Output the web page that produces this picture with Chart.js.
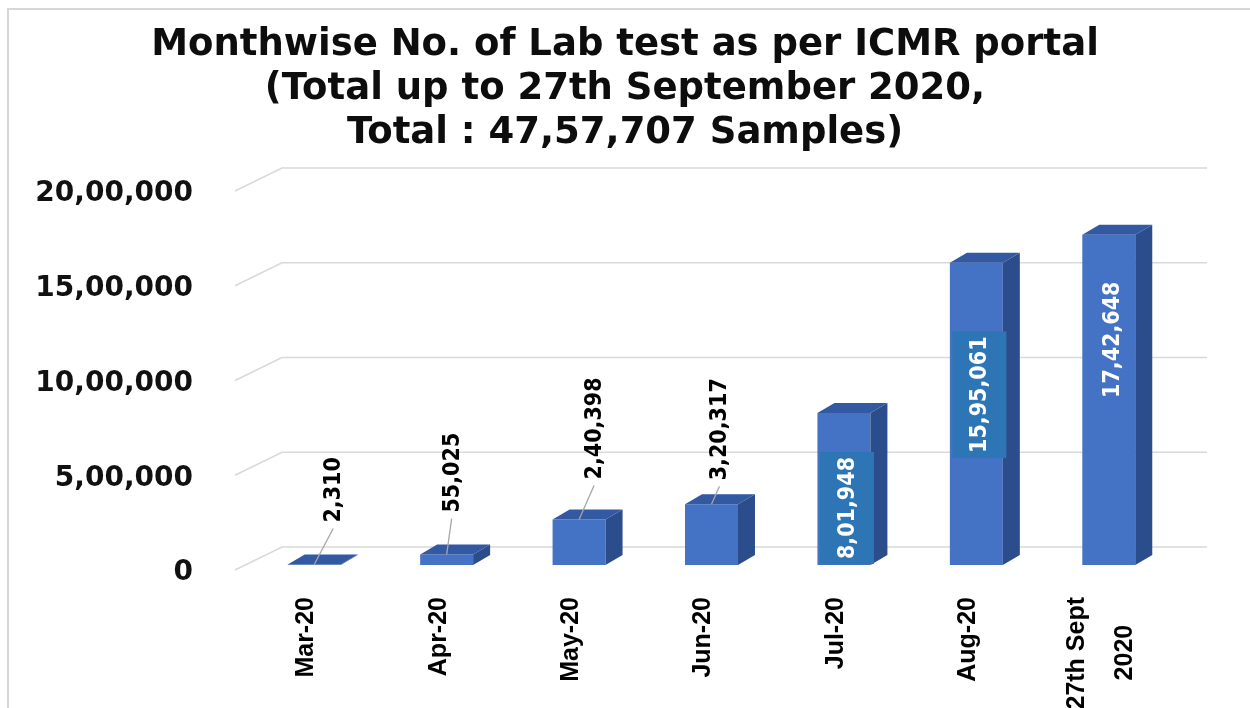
<!DOCTYPE html>
<html>
<head>
<meta charset="utf-8">
<title>Monthwise No. of Lab test as per ICMR portal</title>
<script src="https://cdn.jsdelivr.net/npm/chart.js@4.4.1/dist/chart.umd.min.js"></script>
<style>
  html, body { margin: 0; padding: 0; background: #fff; }
</style>
</head>
<body>
<canvas id="labChart" width="1250" height="708"></canvas>
<script>
// Categories on the x axis (first empty line keeps single labels in line with the two-line one)
const months = [["", "Mar-20"], ["", "Apr-20"], ["", "May-20"], ["", "Jun-20"], ["", "Jul-20"], ["", "Aug-20"], ["27th Sept", "", "2020    "]];
// Samples tested in each month
const samples = [2310, 55025, 240398, 320317, 801948, 1595061, 1742648];
// Value labels as printed on the chart (Indian digit grouping)
const valueText = ["2,310", "55,025", "2,40,398", "3,20,317", "8,01,948", "15,95,061", "17,42,648"];
// y axis ticks
const yTicks = [0, 500000, 1000000, 1500000, 2000000];
const yTickText = ["0", "5,00,000", "10,00,000", "15,00,000", "20,00,000"];
const titleLines = [
	"Monthwise No. of Lab test as per ICMR portal",
	"(Total up to 27th September 2020,",
	"Total : 47,57,707 Samples)"
];

// Look of the fake 3D bars
const frontColor = "#4472c4";
const topColor = "#3359a3";
const sideColor = "#2c4d8c";
const barDepth = { dx: 17, dy: 10 };
const labelFont = "bold 23px 'DejaVu Sans Condensed', 'DejaVu Sans', sans-serif";
// where the small-bar labels sit, relative to the bar top (x, y)
const outsideNudge = [[20, -42], [6, -42], [16, -40], [9, -24]];
// centre of the labels drawn inside the tall bars, relative to the bar top
const insideNudge = { 4: [3, 95], 5: [3, 132], 6: [3, 105] };

/** Draws the frame, the back wall grid, the 3D faces and the value labels */
const chart3d = {
	id: 'chart3d',
	beforeDraw(chart) {
		const ctx = chart.ctx;
		ctx.save();
		ctx.strokeStyle = "#d6d6d6";
		ctx.lineWidth = 2;
		ctx.beginPath();
		ctx.moveTo(8, 708);
		ctx.lineTo(8, 9);
		ctx.lineTo(1250, 9);
		ctx.stroke();
		ctx.restore();
	},
	beforeDatasetsDraw(chart) {
		const ctx = chart.ctx;
		const area = chart.chartArea;
		const y = chart.scales.y;
		ctx.save();
		ctx.strokeStyle = "#d9d9d9";
		ctx.lineWidth = 1.5;
		yTicks.forEach(function(v) {
			const py = y.getPixelForValue(v);
			ctx.beginPath();
			ctx.moveTo(area.left - 13, py + 5);
			ctx.lineTo(area.left + 34, py - 18);
			ctx.lineTo(area.right + 32, py - 18);
			ctx.stroke();
		});
		ctx.restore();
	},
	afterDatasetsDraw(chart) {
		const ctx = chart.ctx;
		const bars = chart.getDatasetMeta(0).data;
		ctx.save();
		bars.forEach(function(bar) {
			const l = bar.x - bar.width / 2, r = bar.x + bar.width / 2;
			const t = bar.y, b = bar.base;
			ctx.fillStyle = sideColor;
			ctx.beginPath();
			ctx.moveTo(r, t);
			ctx.lineTo(r + barDepth.dx, t - barDepth.dy);
			ctx.lineTo(r + barDepth.dx, b - barDepth.dy);
			ctx.lineTo(r, b);
			ctx.closePath();
			ctx.fill();
			ctx.fillStyle = topColor;
			ctx.beginPath();
			ctx.moveTo(l, t);
			ctx.lineTo(l + barDepth.dx, t - barDepth.dy);
			ctx.lineTo(r + barDepth.dx, t - barDepth.dy);
			ctx.lineTo(r, t);
			ctx.closePath();
			ctx.fill();
		});

		// value labels
		ctx.font = labelFont;
		bars.forEach(function(bar, i) {
			if (i < outsideNudge.length) {
				const tx = bar.x + outsideNudge[i][0];
				const ty = bar.y + outsideNudge[i][1];
				ctx.strokeStyle = "#a6a6a6";
				ctx.lineWidth = 1.3;
				ctx.beginPath();
				ctx.moveTo(bar.x, bar.y);
				ctx.lineTo(tx - 1, ty + 6);
				ctx.stroke();
				ctx.save();
				ctx.translate(tx, ty);
				ctx.rotate(-Math.PI / 2);
				ctx.fillStyle = "#000";
				ctx.textAlign = "left";
				ctx.textBaseline = "middle";
				ctx.fillText(valueText[i], 0, 0);
				ctx.restore();
			} else {
				const n = insideNudge[i];
				const w = ctx.measureText(valueText[i]).width;
				ctx.save();
				ctx.translate(bar.x + n[0], bar.y + n[1]);
				ctx.rotate(-Math.PI / 2);
				if (i !== 6) {
					ctx.fillStyle = "#2e75b6";
					ctx.fillRect(-(w + 10) / 2, -27, w + 10, 54);
				}
				ctx.fillStyle = "#fff";
				ctx.textAlign = "center";
				ctx.textBaseline = "middle";
				ctx.fillText(valueText[i], 0, 1);
				ctx.restore();
			}
		});
		ctx.restore();
	}
};

const ctx = document.getElementById("labChart").getContext("2d");
const labChart = new Chart(ctx, {
	type: 'bar',
	data: {
		labels: months,
		datasets: [{
			data: samples,
			backgroundColor: frontColor,
			borderWidth: 0,
			barPercentage: 0.4,
			categoryPercentage: 1.0
		}]
	},
	options: {
		responsive: false,
		animation: false,
		devicePixelRatio: 1,
		layout: { padding: 0 },
		plugins: {
			legend: { display: false },
			tooltip: { enabled: false },
			title: {
				display: true,
				text: titleLines,
				color: "#0d0d0d",
				font: { family: "'DejaVu Sans', sans-serif", size: 37, weight: 'bold', lineHeight: 1.18 },
				padding: { top: 24, bottom: 31 }
			}
		},
		scales: {
			x: {
				grid: { display: false },
				border: { display: false },
				ticks: {
					autoSkip: false,
					minRotation: 90,
					maxRotation: 90,
					padding: 24,
					labelOffset: -32,
					color: "#000",
					font: { family: "'Liberation Sans', Arial, sans-serif", size: 25, weight: 'bold', lineHeight: '24px' }
				},
				afterFit: function(scale) { scale.height = 143; }
			},
			y: {
				min: 0,
				max: 2000000,
				grid: { display: false },
				border: { display: false },
				afterBuildTicks: function(scale) {
					scale.ticks = yTicks.map(function(v) { return { value: v }; });
				},
				ticks: {
					padding: 47,
					labelOffset: 8,
					color: "#111",
					font: { family: "'DejaVu Sans', sans-serif", size: 28, weight: 'bold' },
					callback: function(v) { return yTickText[yTicks.indexOf(v)]; }
				},
				afterFit: function(scale) { scale.width = 248; }
			},
			// empty right-hand strip so the plot ends where the reference's does
			yRight: {
				position: 'right',
				grid: { display: false },
				border: { display: false },
				ticks: { display: false },
				afterFit: function(scale) { scale.width = 75; }
			}
		}
	},
	plugins: [chart3d]
});
</script>
</body>
</html>
